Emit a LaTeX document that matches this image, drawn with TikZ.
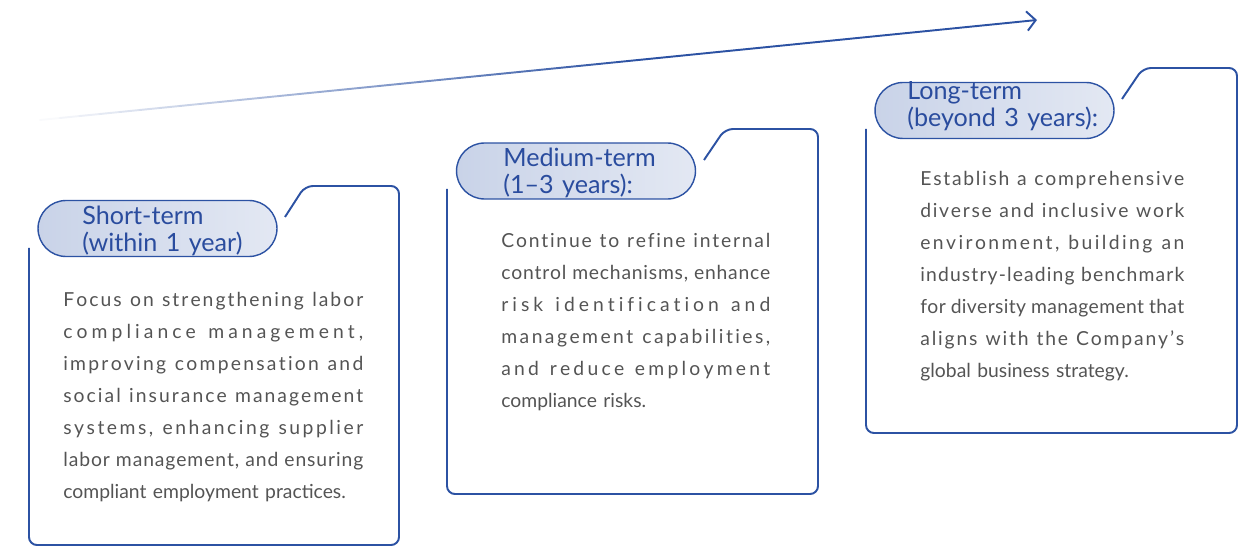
\documentclass[tikz,border=0pt]{standalone}
\usepackage{fontspec}
\setmainfont{Lato}
\usepackage{xcolor}
\usepackage{tikz}
\usetikzlibrary{shapes.misc,arrows.meta,calc}
\definecolor{FrameBlue}{HTML}{2C52A3}
\definecolor{TitleBlue}{HTML}{2A4C9E}
\definecolor{BodyGrey}{HTML}{545454}
\definecolor{PillL}{HTML}{C9D3E8}
\definecolor{PillR}{HTML}{E3E8F3}
% spread the letters of one line over a given width
\ExplSyntaxOn
\NewDocumentCommand \spreadline { m m }
  {
    \leavevmode
    \hbox_to_wd:nn {#1}
      {
        \str_map_inline:nn {#2}
          {
            \tl_if_blank:nTF {##1}
              { \hskip 0.22em plus 1fil minus 0.08em \relax }
              { ##1 \hskip 0pt plus 1fil \relax }
          }
        \unskip
      }
  }
\ExplSyntaxOff
\begin{document}
\begin{tikzpicture}[x=0.02cm,y=-0.02cm,
  frame/.style={draw=FrameBlue,line width=1.1pt,rounded corners=4.5pt},
  pill/.style={rounded rectangle,draw=FrameBlue,line width=.8pt,
    left color=PillL,right color=PillR,minimum width=4.78cm,
    minimum height=1.12cm,inner sep=0pt},
  ttl/.style={anchor=base west,inner sep=0pt,text width=4.6cm,align=left,
    font=\fontsize{14.3}{14.8}\selectfont,text=TitleBlue},
  body/.style={anchor=base west,inner sep=0pt,align=left,
    font=\fontsize{11}{18.2}\selectfont,text=BodyGrey},
  trend/.style={line width=1.1pt,line cap=round}]
  \useasboundingbox (0,0) rectangle (1251,547);
  % rising trend arrow, fading in from the left
  \coordinate (arrS) at (40,120);
  \coordinate (arrE) at (1037,20);
  \foreach \i in {0,...,44}{
    \pgfmathsetmacro{\ta}{\i/50}
    \pgfmathsetmacro{\tb}{(\i+1)/50}
    \pgfmathsetmacro{\pc}{min(100,3+165*\ta)}
    \draw[trend,color=FrameBlue!\pc!white] ($(arrS)!\ta!(arrE)$) -- ($(arrS)!\tb!(arrE)$);
  }
  \draw[trend,color=FrameBlue,-{Straight Barb[length=5pt,width=11pt]}]
    ($(arrS)!0.9!(arrE)$) -- (arrE);
  % short term
  \draw[frame] (285,217) -- (305,186) -- (399,186) -- (399,545) -- (29,545) -- (29,248);
  \node[pill] (p1) at (157.5,228.5) {};
  \node[ttl] (t1) at (82,225) {Short-term\\(within 1 year)};
  \node[body,text width=6cm] (b1) at (63,307) {%
    \spreadline{\linewidth}{Focus on strengthening labor}\\
    \spreadline{\linewidth}{compliance management,}\\
    \spreadline{\linewidth}{improving compensation and}\\
    \spreadline{\linewidth}{social insurance management}\\
    \spreadline{\linewidth}{systems, enhancing supplier}\\
    \spreadline{\linewidth}{labor management, and ensuring}\\
    compliant employment practices.};
  % medium term
  \draw[frame] (704,160) -- (725,129) -- (818,129) -- (818,494) -- (447,494) -- (447,189);
  \node[pill] (p2) at (576,171) {};
  \node[ttl] (t2) at (503,167) {Medium-term\\(1--3 years):};
  \node[body,text width=5.38cm] (b2) at (501,248) {%
    \spreadline{\linewidth}{Continue to refine internal}\\
    \spreadline{\linewidth}{control mechanisms, enhance}\\
    \spreadline{\linewidth}{risk identification and}\\
    \spreadline{\linewidth}{management capabilities,}\\
    \spreadline{\linewidth}{and reduce employment}\\
    compliance risks.};
  % long term
  \draw[frame] (1122,99) -- (1143,68) -- (1237,68) -- (1237,433) -- (866,433) -- (866,129);
  \node[pill] (p3) at (994.5,110.5) {};
  \node[ttl] (t3) at (907,100) {Long-term\\(beyond 3 years):};
  \node[body,text width=5.28cm] (b3) at (920,186) {%
    \spreadline{\linewidth}{Establish a comprehensive}\\
    \spreadline{\linewidth}{diverse and inclusive work}\\
    \spreadline{\linewidth}{environment, building an}\\
    \spreadline{\linewidth}{industry-leading benchmark}\\
    \spreadline{\linewidth}{for diversity management that}\\
    \spreadline{\linewidth}{aligns with the Company's}\\
    global business strategy.};
\end{tikzpicture}
\end{document}
